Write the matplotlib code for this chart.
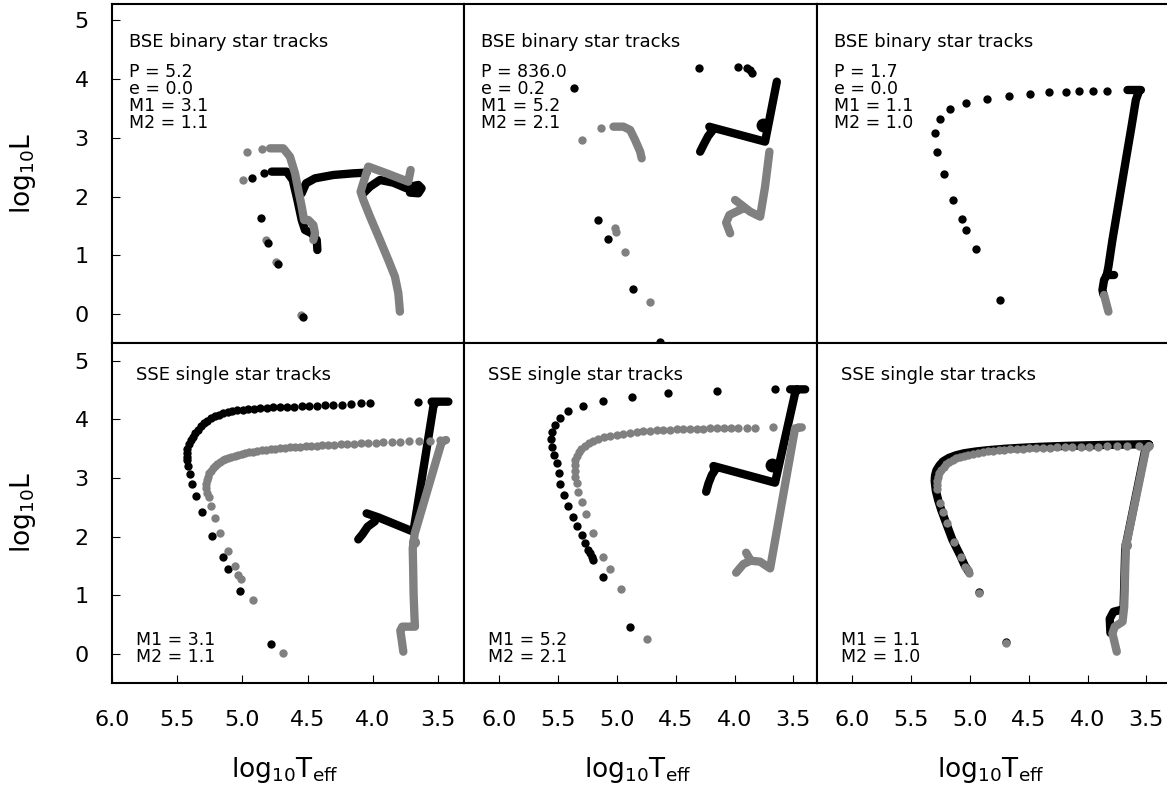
import numpy as np
import matplotlib
matplotlib.use("Agg")
import matplotlib.pyplot as plt

plt.rcParams['font.family'] = ['DejaVu Sans']
plt.rcParams['mathtext.fontset'] = 'dejavusans'

nan = np.nan
BLACK = '#000000'
GRAY = '#808080'

# ---------------- panel annotations ----------------
periods = ["5.2", "836.0", "1.7"]
eccs = ["0.0", "0.2", "0.0"]
m1s = ["3.1", "5.2", "1.1"]
m2s = ["1.1", "2.1", "1.0"]
xtick_vals = [6.0, 5.5, 5.0, 4.5, 4.0, 3.5]
xtick_labels = ["6.0", "5.5", "5.0", "4.5", "4.0", "3.5"]
ytick_vals = [0, 1, 2, 3, 4, 5]
ytick_labels = ["0", "1", "2", "3", "4", "5"]

# ---------------- Panel A: BSE, P=5.2 ----------------
a_k_line_x = [4.775, 4.660, 4.614, 4.578, 4.545, 4.520, 4.469, 4.430, 4.425, nan,
              4.545, 4.512, 4.443, 4.303, 4.150, 4.048, nan,
              4.073, 4.022, 3.946, 3.844, 3.742, 3.690, 3.652, 3.627, 3.652, 3.716]
a_k_line_y = [2.425, 2.425, 2.283, 1.942, 1.601, 1.431, 1.374, 1.261, 1.090, nan,
              2.056, 2.226, 2.311, 2.368, 2.396, 2.408, nan,
              2.056, 2.169, 2.283, 2.237, 2.141, 2.180, 2.198, 2.141, 2.056, 2.067]
a_k_dot_x = [4.923, 4.834, 4.859, 4.800, 4.724, 4.532]
a_k_dot_y = [2.311, 2.408, 1.630, 1.215, 0.852, -0.057]
a_g_line_x = [4.788, 4.686, 4.635, 4.596, 4.571, 4.545, 4.527, 4.494, 4.456, 4.443, 4.456, nan,
              3.793, 3.805, 3.831, 3.882, 3.946, 4.022, 4.073, 4.094, 4.035, 3.895, 3.729, 3.711]
a_g_line_y = [2.822, 2.822, 2.680, 2.396, 2.112, 1.829, 1.601, 1.601, 1.516, 1.374, 1.261, nan,
              0.040, 0.352, 0.636, 0.920, 1.261, 1.658, 1.942, 2.084, 2.510, 2.396, 2.254, 2.453]
a_g_dot_x = [4.992, 4.961, 4.847, 4.821, 4.742, 4.550]
a_g_dot_y = [2.283, 2.754, 2.817, 1.261, 0.892, -0.017]

# ---------------- Panel B: BSE, P=836 ----------------
b_k_line_x = [4.293, 4.262, 4.225, 4.190, 4.215, 3.741, 3.641]
b_k_line_y = [2.765, 2.890, 3.030, 3.120, 3.190, 2.936, 3.958]
b_k_dot_x = [5.365, 4.302, 3.967, 3.897, 3.865, 3.855, 5.158, 5.073, 4.866, 4.634]
b_k_dot_y = [3.856, 4.185, 4.213, 4.195, 4.150, 4.100, 1.601, 1.272, 0.426, -0.471]
b_k_big_x = [3.755]
b_k_big_y = [3.220]
b_g_line_x = [5.030, 4.945, 4.888, 4.846, 4.803, 4.790, nan,
              3.704, 3.741, 3.783, 3.868, 3.996, nan,
              3.925, 4.044, 4.072, 4.038]
b_g_line_y = [3.191, 3.191, 3.135, 2.964, 2.765, 2.652, nan,
              2.765, 2.169, 1.658, 1.743, 1.942, nan,
              1.800, 1.687, 1.556, 1.374]
b_g_dot_x = [5.294, 5.138, 5.016, 5.010, 4.931, 4.719]
b_g_dot_y = [2.964, 3.163, 1.459, 1.403, 1.062, 0.210]

# ---------------- Panel C: BSE, P=1.7 ----------------
c_k_line_x = [3.661, 3.547, nan,
              3.561, 3.590, 3.627, 3.675, 3.732, 3.789, 3.823, 3.837, 3.775, nan,
              3.837, 3.860, 3.874, 3.865]
c_k_line_y = [3.816, 3.816, nan,
              3.805, 3.646, 3.191, 2.624, 1.942, 1.261, 0.806, 0.664, 0.664, nan,
              0.664, 0.579, 0.409, 0.330]
c_k_dot_x = [4.741, 4.948, 5.034, 5.067, 5.144, 5.224, 5.281, 5.295, 5.258, 5.167,
             5.034, 4.855, 4.670, 4.491, 4.329, 4.187, 4.073, 3.951, 3.832]
c_k_dot_y = [0.239, 1.102, 1.431, 1.613, 1.942, 2.379, 2.765, 3.078, 3.322, 3.487,
             3.589, 3.663, 3.719, 3.748, 3.782, 3.788, 3.799, 3.799, 3.799]
c_g_line_x = [3.860, 3.823]
c_g_line_y = [0.324, 0.040]
c_g_dot_x = []
c_g_dot_y = []

# ---------------- Panel D: SSE, M1=3.1 / M2=1.1 ----------------
d_k_line_x = [4.112, 4.080, 4.040, 3.985, nan, 4.048, 3.960, 3.690, 3.537, 3.520, nan, 3.550, 3.422]
d_k_line_y = [1.953, 2.040, 2.170, 2.260, nan, 2.396, 2.330, 2.084, 4.214, 4.290, nan, 4.299, 4.299]
d_k_dot_x = [3.652, 4.022, 4.094, 4.168, 4.234, 4.303, 4.367, 4.431, 4.489, 4.545,
             4.604, 4.660, 4.711, 4.762, 4.813, 4.864, 4.910, 4.954, 4.997, 5.038,
             5.076, 5.112, 5.145, 5.178, 5.209, 5.240, 5.268, 5.293, 5.319, 5.342,
             5.362, 5.380, 5.395, 5.411, 5.421, 5.426, 5.426, 5.425, 5.413, 5.401,
             5.383, 5.355, 5.311, 5.230, 5.150, 5.107, 5.018, 4.783]
d_k_dot_y = [4.287, 4.270, 4.270, 4.260, 4.250, 4.242, 4.236, 4.230, 4.226, 4.222,
             4.216, 4.210, 4.205, 4.200, 4.196, 4.188, 4.180, 4.172, 4.162, 4.150,
             4.138, 4.122, 4.100, 4.080, 4.050, 4.015, 3.975, 3.930, 3.880, 3.820,
             3.760, 3.700, 3.640, 3.570, 3.500, 3.430, 3.360, 3.300, 3.203, 3.066,
             2.896, 2.697, 2.413, 2.016, 1.647, 1.442, 1.079, 0.170]
d_g_line_x = [3.767, 3.780, 3.790, 3.775, 3.678, 3.681, 3.688, 3.692, 3.695, 3.680, 3.473, 3.440]
d_g_line_y = [0.040, 0.250, 0.400, 0.466, 0.466, 0.600, 1.000, 1.500, 1.800, 2.050, 3.617, 3.646]
d_g_big_x = [3.688]
d_g_big_y = [1.900]
d_g_dot_x = [3.486, 3.563, 3.644, 3.721, 3.792, 3.856, 3.920, 3.979, 4.035, 4.091,
             4.145, 4.196, 4.247, 4.295, 4.341, 4.387, 4.431, 4.474, 4.515, 4.558,
             4.596, 4.635, 4.673, 4.711, 4.747, 4.783, 4.819, 4.852, 4.885, 4.916,
             4.946, 4.977, 5.005, 5.033, 5.058, 5.084, 5.107, 5.130, 5.150, 5.171,
             5.191, 5.209, 5.227, 5.242, 5.255, 5.265, 5.273, 5.278, 5.278, 5.273,
             5.252, 5.240, 5.209, 5.171, 5.112, 5.056, 5.031, 5.013, 4.921, 4.691]
d_g_dot_y = [3.646, 3.634, 3.629, 3.623, 3.617, 3.612, 3.606, 3.600, 3.595, 3.589,
             3.583, 3.578, 3.572, 3.566, 3.561, 3.555, 3.549, 3.543, 3.538, 3.532,
             3.526, 3.521, 3.515, 3.504, 3.498, 3.487, 3.481, 3.470, 3.458, 3.447,
             3.436, 3.424, 3.413, 3.396, 3.379, 3.362, 3.345, 3.322, 3.299, 3.271,
             3.242, 3.208, 3.169, 3.123, 3.078, 3.021, 2.964, 2.896, 2.822, 2.748,
             2.680, 2.521, 2.311, 2.056, 1.755, 1.499, 1.346, 1.272, 0.920, 0.011]

# ---------------- Panel E: SSE, M1=5.2 / M2=2.1 ----------------
e_k_line_x = [4.242, 4.222, 4.194, 4.166, 4.180, 3.656, 3.486, 3.470, nan, 3.528, 3.400]
e_k_line_y = [2.765, 2.907, 3.049, 3.135, 3.203, 2.919, 4.441, 4.500, nan, 4.509, 4.509]
e_k_big_x = [3.684]
e_k_big_y = [3.220]
e_k_dot_x = [3.656, 4.146, 4.568, 4.874, 5.115, 5.291, 5.413, 5.484, 5.527, 5.555,
             5.563, 5.555, 5.532, 5.513, 5.490, 5.484, 5.450, 5.413, 5.371, 5.337,
             5.300, 5.271, 5.243, 5.230, 5.215, 5.201, 5.121, 4.889]
e_k_dot_y = [4.509, 4.481, 4.441, 4.384, 4.316, 4.231, 4.140, 4.015, 3.901, 3.788,
             3.657, 3.532, 3.390, 3.248, 3.078, 2.896, 2.709, 2.527, 2.340, 2.181,
             2.027, 1.885, 1.772, 1.720, 1.660, 1.601, 1.306, 0.454]
e_g_line_x = [3.987, 3.925, 3.863, 3.902, nan, 3.863, 3.783, 3.698, 3.486, 3.429]
e_g_line_y = [1.386, 1.533, 1.590, 1.726, nan, 1.590, 1.573, 1.459, 3.844, 3.861]
e_g_dot_x = [3.458, 3.670, 3.826, 3.897, 3.967, 4.032, 4.094, 4.151, 4.208, 4.265,
             4.322, 4.378, 4.435, 4.492, 4.548, 4.605, 4.662, 4.719, 4.775, 4.832,
             4.889, 4.945, 5.002, 5.059, 5.110, 5.158, 5.200, 5.240, 5.274, 5.302,
             5.325, 5.342, 5.353, 5.356, 5.356, 5.353, 5.342, 5.328, 5.300, 5.263,
             5.200, 5.115, 5.059, 4.968, 4.741]
e_g_dot_y = [3.861, 3.861, 3.856, 3.856, 3.856, 3.850, 3.850, 3.844, 3.844, 3.839,
             3.839, 3.833, 3.827, 3.827, 3.822, 3.816, 3.810, 3.799, 3.793, 3.782,
             3.771, 3.754, 3.737, 3.714, 3.691, 3.663, 3.629, 3.589, 3.543, 3.492,
             3.436, 3.373, 3.305, 3.220, 3.123, 3.021, 2.907, 2.765, 2.595, 2.385,
             2.056, 1.658, 1.442, 1.102, 0.256]

# ---------------- Panel F: SSE, M1=1.1 / M2=1.0 ----------------
f_k_line_x = [3.806, 3.812, 3.780, 3.720, nan,
              3.694, 3.680, 3.510, 3.475, nan,
              3.480, 3.600, 3.800, 4.000, 4.200, 4.400, 4.550, 4.700, 4.850, 4.950,
              5.050, 5.120, 5.180, 5.230, 5.260, 5.285, 5.297, 5.300, 5.295, 5.290,
              5.270, 5.245, 5.210, 5.150, 5.085, 5.045, 5.010]
f_k_line_y = [0.360, 0.600, 0.720, 0.750, nan,
              0.800, 1.800, 3.480, 3.560, nan,
              3.575, 3.570, 3.565, 3.555, 3.545, 3.530, 3.515, 3.497, 3.472, 3.450,
              3.420, 3.385, 3.340, 3.280, 3.210, 3.130, 3.040, 2.950, 2.860, 2.780,
              2.620, 2.460, 2.270, 1.950, 1.690, 1.510, 1.400]
f_k_dot_x = [4.925, 4.695]
f_k_dot_y = [1.050, 0.200]
f_g_line_x = [3.752, 3.789, 3.769, 3.703, 3.689, 3.675, 3.505, 3.476]
f_g_line_y = [0.040, 0.352, 0.466, 0.551, 0.806, 1.829, 3.475, 3.543]
f_g_big_x = [3.675]
f_g_big_y = [1.850]
f_g_dot_x = [3.476, 3.562, 3.661, 3.752, 3.831, 3.911, 3.988, 4.059, 4.130, 4.195,
             4.258, 4.320, 4.380, 4.437, 4.494, 4.550, 4.604, 4.656, 4.707, 4.755,
             4.803, 4.849, 4.891, 4.934, 4.974, 5.014, 5.051, 5.085, 5.116, 5.147,
             5.176, 5.201, 5.224, 5.244, 5.261, 5.272, 5.281, 5.284, 5.281,
             5.258, 5.230, 5.196, 5.139, 5.076, 5.039, 5.019, 5.005, 4.920, 4.690]
f_g_dot_y = [3.543, 3.543, 3.543, 3.538, 3.538, 3.532, 3.532, 3.526, 3.526, 3.521,
             3.521, 3.515, 3.515, 3.509, 3.504, 3.498, 3.492, 3.487, 3.481, 3.475,
             3.464, 3.453, 3.441, 3.430, 3.413, 3.396, 3.379, 3.356, 3.333, 3.305,
             3.271, 3.231, 3.186, 3.135, 3.078, 3.015, 2.953, 2.879, 2.805,
             2.578, 2.425, 2.226, 1.914, 1.658, 1.488, 1.431, 1.374, 1.034, 0.193]

panels = [
    dict(kl=(a_k_line_x, a_k_line_y), kd=(a_k_dot_x, a_k_dot_y), gl=(a_g_line_x, a_g_line_y), gd=(a_g_dot_x, a_g_dot_y)),
    dict(kl=(b_k_line_x, b_k_line_y), kd=(b_k_dot_x, b_k_dot_y), gl=(b_g_line_x, b_g_line_y), gd=(b_g_dot_x, b_g_dot_y),
         kb=(b_k_big_x, b_k_big_y)),
    dict(kl=(c_k_line_x, c_k_line_y), kd=(c_k_dot_x, c_k_dot_y), gl=(c_g_line_x, c_g_line_y), gd=(c_g_dot_x, c_g_dot_y)),
    dict(kl=(d_k_line_x, d_k_line_y), kd=(d_k_dot_x, d_k_dot_y), gl=(d_g_line_x, d_g_line_y), gd=(d_g_dot_x, d_g_dot_y),
         gb=(d_g_big_x, d_g_big_y)),
    dict(kl=(e_k_line_x, e_k_line_y), kd=(e_k_dot_x, e_k_dot_y), gl=(e_g_line_x, e_g_line_y), gd=(e_g_dot_x, e_g_dot_y),
         kb=(e_k_big_x, e_k_big_y)),
    dict(kl=(f_k_line_x, f_k_line_y), kd=(f_k_dot_x, f_k_dot_y), gl=(f_g_line_x, f_g_line_y), gd=(f_g_dot_x, f_g_dot_y),
         gb=(f_g_big_x, f_g_big_y)),
]

# ---------------- layout ----------------
W, H = 1167, 785
fig = plt.figure(figsize=(W / 100, H / 100), dpi=100)
col_left = [111.7, 464.3, 817.3]
col_w = [352.6, 353.0, 353.0]
row_top = [4.0, 342.5]
row_h = [338.5, 340.0]
xlims = [(6.0, 3.30), (6.298, 3.297), (6.298, 3.297)]
ylims = [(-0.486, 5.281), (-0.485, 5.307)]

PX = 0.72  # points per pixel
MS = 6.0
LW = 6.0
FS_TITLE = 13
FS_TXT = 12.5
FS_TICK = 16
FS_LAB = 19

def draw_line(ax, xy, color, z, lw=LW):
    ax.plot(xy[0], xy[1], '-', color=color, lw=lw, solid_capstyle='round',
            solid_joinstyle='round', zorder=z)

def draw_dots(ax, xy, color, z, ms=MS):
    ax.plot(xy[0], xy[1], 'o', color=color, ms=ms, mew=0, zorder=z, clip_on=False)

def put(ax, s, dx, dy, top=True, fs=FS_TXT):
    ax.annotate(s, xy=(0, 1 if top else 0), xycoords='axes fraction',
                xytext=(dx * PX, (-dy if top else dy) * PX), textcoords='offset points',
                ha='left', va='baseline', fontsize=fs, color='black')

for r in range(2):
    for c in range(3):
        i = r * 3 + c
        L, w = col_left[c], col_w[c]
        T, h = row_top[r], row_h[r]
        ax = fig.add_axes([L / W, 1 - (T + h) / H, w / W, h / H])
        ax.set_xlim(*xlims[c])
        ax.set_ylim(*ylims[r])
        for sp in ax.spines.values():
            sp.set_linewidth(1.5)
            sp.set_color('black')
        p = panels[i]
        if r == 0:
            draw_line(ax, p['kl'], BLACK, 2)
            draw_line(ax, p['gl'], GRAY, 3)
            draw_dots(ax, p['gd'], GRAY, 4)
            draw_dots(ax, p['kd'], BLACK, 5)
        else:
            draw_line(ax, p['kl'], BLACK, 2)
            draw_dots(ax, p['kd'], BLACK, 3)
            draw_line(ax, p['gl'], GRAY, 4)
            draw_dots(ax, p['gd'], GRAY, 5)
        if 'kb' in p:
            draw_dots(ax, p['kb'], BLACK, 6, ms=10)
        if 'gb' in p:
            draw_dots(ax, p['gb'], GRAY, 6, ms=8)

        ax.tick_params(direction='in', length=5.8, width=0.8, labelsize=FS_TICK,
                       top=False, right=False)
        ax.tick_params(axis='y', pad=16.5)
        ax.tick_params(axis='x', pad=20)
        if r == 1:
            ax.set_xticks(xtick_vals)
            ax.set_xticklabels(xtick_labels)
        else:
            ax.set_xticks([])
        if c == 0:
            ax.set_yticks(ytick_vals)
            ax.set_yticklabels(ytick_labels)
        else:
            ax.set_yticks([])

        if r == 0:
            put(ax, "BSE binary star tracks", 17, 42.7, fs=FS_TITLE)
            put(ax, "P = " + periods[c], 17, 72.7)
            put(ax, "e = " + eccs[c], 17, 89.5)
            put(ax, "M1 = " + m1s[c], 17, 106.7)
            put(ax, "M2 = " + m2s[c], 17, 123.7)
        else:
            put(ax, "SSE single star tracks", 24, 38.0, fs=FS_TITLE)
            put(ax, "M1 = " + m1s[c], 24, 37.7, top=False)
            put(ax, "M2 = " + m2s[c], 24, 20.7, top=False)

        if r == 1:
            cx = (L + w / 2) / W
            fig.text(cx - 3 / W, 1 - 777.3 / H, r'$\mathregular{log_{10}T_{eff}}$',
                     ha='center', va='baseline', fontsize=FS_LAB)
        if c == 0:
            cy = 1 - (T + h / 2) / H
            fig.text(23 / W, cy, r'$\mathregular{log_{10}L}$', rotation=90,
                     ha='center', va='center', fontsize=FS_LAB)

fig.savefig('out.png', dpi=100)
